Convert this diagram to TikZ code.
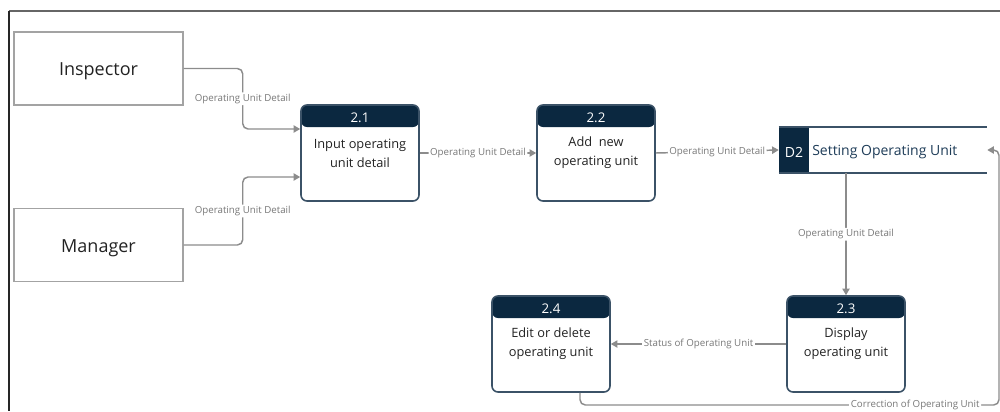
\documentclass[tikz,border=0pt]{standalone}
\usepackage{fontspec}
\setmainfont{Open Sans}
\usetikzlibrary{arrows.meta}

\definecolor{navy}{HTML}{0B2840}
\definecolor{procedge}{HTML}{3B5267}
\definecolor{entedge}{HTML}{A3A3A3}
\definecolor{flowgray}{HTML}{8C8C8C}
\definecolor{lblgray}{HTML}{787878}
\definecolor{storetext}{HTML}{1E3C58}
\definecolor{bodytext}{HTML}{222222}

\tikzset{
  entity/.style={draw=entedge, line width=1.1pt, minimum width=126.75pt,
    minimum height=54.75pt, inner sep=0pt, font=\fontsize{13.5}{16}\selectfont,
    text height=14.4pt, text depth=3.2pt, text=bodytext},
  proc/.style={draw=procedge, line width=1.2pt, rounded corners=4.5pt,
    minimum width=88.5pt, minimum height=72pt, inner sep=0pt, align=center,
    font=\fontsize{9.6}{14.4}\selectfont, text=bodytext,
    path picture={\fill[navy] (path picture bounding box.north west)
      rectangle ([yshift=-16.5pt]path picture bounding box.north east);},
    label={[text=white, font=\fontsize{10}{12}\selectfont, yshift=-9.8pt,
      anchor=center]north:#1}},
  storebox/.style={minimum width=156pt, minimum height=34.5pt, inner sep=0pt,
    path picture={\fill[navy] (path picture bounding box.north west)
      rectangle ([xshift=22.5pt]path picture bounding box.south west);}},
  flow/.style={draw=flowgray, line width=1.1pt, rounded corners=4pt,
    -{Triangle[length=5pt,width=5.5pt]}},
  lbl/.style={fill=white, text=lblgray, inner sep=1.2pt,
    font=\fontsize{7.3}{9}\selectfont},
}

\begin{document}
\begin{tikzpicture}[x=0.75pt, y=-0.75pt]
  \useasboundingbox (0,0) rectangle (1000,411);

  % outer frame edges
  \coordinate (frameTL) at (9,11);
  \draw[color=black!60, line width=0.9pt] (frameTL) -- (1000,11);
  \draw[color=black!85, line width=0.9pt] (frameTL) -- (9,411);

  % external entities
  \node[entity] (insp) at (98.5,68.5) {Inspector};
  \node[entity] (mgr)  at (98.5,245)  {Manager};

  % processes
  \node[proc=2.1] (p21) at (360,153) {Input operating\\unit detail};
  \node[proc=2.2] (p22) at (596,153) {Add\ \ new\\operating unit};
  \node[proc=2.3] (p23) at (846,344) {Display\\operating unit};
  \node[proc=2.4] (p24) at (551,344) {Edit or delete\\operating unit};

  % data store
  \node[storebox] (d2) at (883,150) {};
  \draw[procedge, line width=1.2pt] (d2.north west) -- (d2.north east);
  \draw[procedge, line width=1.2pt] (d2.south west) -- (d2.south east);
  \node[text=white, font=\fontsize{10.5}{12}\selectfont] (d2id) at (794,152) {D2};
  \node[anchor=west, inner sep=0pt, text=storetext,
        font=\fontsize{10.5}{12}\selectfont] (d2name) at (812,152) {Setting Operating Unit};

  % data flows
  \draw[flow] (insp.east) -- ++(59,0) |- node[lbl, pos=0.25] {Operating Unit Detail}
        ([yshift=18pt]p21.west);
  \draw[flow] (mgr.east) -- ++(59,0) |- node[lbl, pos=0.25] {Operating Unit Detail}
        ([yshift=-18pt]p21.west);
  \draw[flow] (p21.east) -- node[lbl] {Operating Unit Detail} (p22.west);
  \draw[flow] (p22.east) -- node[lbl] {Operating Unit Detail} (d2.west);
  \draw[flow] (d2.south -| p23.north) -- node[lbl] {Operating Unit Detail} (p23.north);
  \draw[flow] (p23.west) -- node[lbl] {Status of Operating Unit} (p24.east);

  \coordinate (retcorner) at (999,405);
  \draw[flow] ([xshift=21.75pt]p24.south) |- node[lbl, pos=0.9] {Correction of Operating Unit}
        (retcorner) |- (d2.east);
\end{tikzpicture}
\end{document}
